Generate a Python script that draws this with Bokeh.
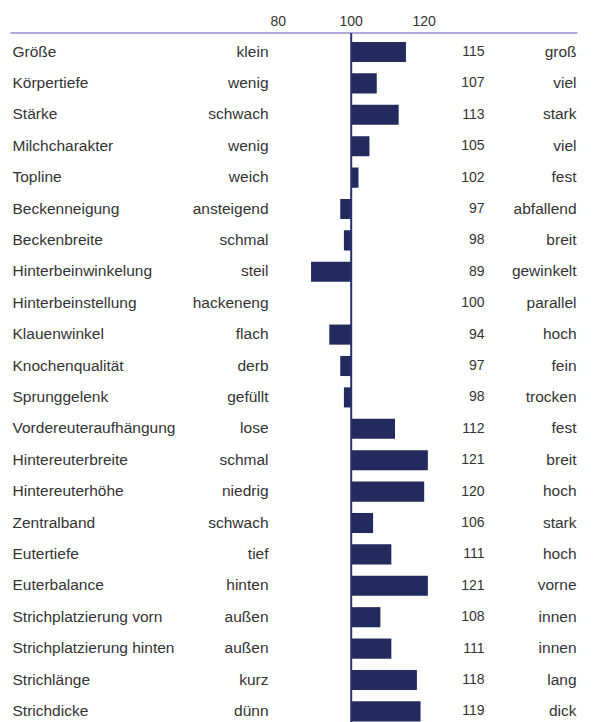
from bokeh.plotting import figure
from bokeh.models import Range1d, ColumnDataSource
from bokeh.core.properties import value
from bokeh.embed import file_html
from bokeh.resources import INLINE

traits = ["Größe", "Körpertiefe", "Stärke", "Milchcharakter", "Topline",
          "Beckenneigung", "Beckenbreite", "Hinterbeinwinkelung",
          "Hinterbeinstellung", "Klauenwinkel", "Knochenqualität",
          "Sprunggelenk", "Vordereuteraufhängung", "Hintereuterbreite",
          "Hintereuterhöhe", "Zentralband", "Eutertiefe", "Euterbalance",
          "Strichplatzierung vorn", "Strichplatzierung hinten",
          "Strichlänge", "Strichdicke"]
left_terms = ["klein", "wenig", "schwach", "wenig", "weich", "ansteigend",
              "schmal", "steil", "hackeneng", "flach", "derb", "gefüllt",
              "lose", "schmal", "niedrig", "schwach", "tief", "hinten",
              "außen", "außen", "kurz", "dünn"]
right_terms = ["groß", "viel", "stark", "viel", "fest", "abfallend", "breit",
               "gewinkelt", "parallel", "hoch", "fein", "trocken", "fest",
               "breit", "hoch", "stark", "hoch", "vorne", "innen", "innen",
               "lang", "dick"]
values = [115, 107, 113, 105, 102, 97, 98, 89, 100, 94, 97, 98, 112, 121,
          120, 106, 111, 121, 108, 111, 118, 119]
tick_values = [80, 100, 120]
base_value = 100

# ---- layout constants (pixels) ----
W, H = 596, 722
PX_PER_UNIT = 3.65
BASE_PX = 350.7          # x pixel of value 100 inside figure
ROW_PX = 31.4
ROW0_PX = 51.5           # y pixel of first row centre inside figure

x0 = base_value - BASE_PX / PX_PER_UNIT
x1 = x0 + W / PX_PER_UNIT
y_top = -ROW0_PX / ROW_PX
y_bot = (H - ROW0_PX) / ROW_PX


def px_x(px):
    return x0 + px / PX_PER_UNIT


def px_y(py):
    return (py - ROW0_PX) / ROW_PX


n = len(traits)
rows = list(range(n))
src = ColumnDataSource(dict(
    row=rows, trait=traits, lt=left_terms, rt=right_terms, val=values,
    vtxt=[str(v) for v in values], base=[base_value] * n,
))

p = figure(width=W, height=H, output_backend="svg", toolbar_location=None,
           x_range=Range1d(x0, x1), y_range=Range1d(y_bot, y_top),
           min_border=0, outline_line_color=None)
p.axis.visible = False
p.grid.visible = False
p.background_fill_color = "white"
p.border_fill_color = "white"

BAR = "#232a5e"
TXT = "#333333"
FONT = value("Liberation Sans")

p.hbar(y="row", left="base", right="val", height=0.64, source=src,
       color=BAR, line_color=None)

# top rule and baseline
line_y = px_y(32.5)
p.segment(x0=[px_x(10)], x1=[px_x(577)], y0=[line_y], y1=[line_y],
          line_color="#aeaadb", line_width=2)
p.segment(x0=[base_value], x1=[base_value], y0=[line_y], y1=[y_bot],
          line_color="#2b3170", line_width=2)

# tick labels
p.text(x=tick_values, y=[px_y(20)] * len(tick_values),
       text=[str(t) for t in tick_values], text_align="center",
       text_baseline="middle", text_font=FONT, text_font_size="14px",
       text_color=TXT)

p.text(x=px_x(12), y="row", text="trait", source=src, text_align="left",
       text_baseline="middle", text_font=FONT, text_font_size="15.5px",
       text_color=TXT, y_offset=-1)
p.text(x=px_x(268), y="row", text="lt", source=src, text_align="right",
       text_baseline="middle", text_font=FONT, text_font_size="15.5px",
       text_color=TXT, y_offset=-1)
p.text(x=px_x(484), y="row", text="vtxt", source=src, text_align="right",
       text_baseline="middle", text_font=FONT, text_font_size="14px",
       text_color=TXT, y_offset=-1)
p.text(x=px_x(576), y="row", text="rt", source=src, text_align="right",
       text_baseline="middle", text_font=FONT, text_font_size="15.5px",
       text_color=TXT, y_offset=-1)

open("out.html", "w").write(file_html(p, INLINE))
